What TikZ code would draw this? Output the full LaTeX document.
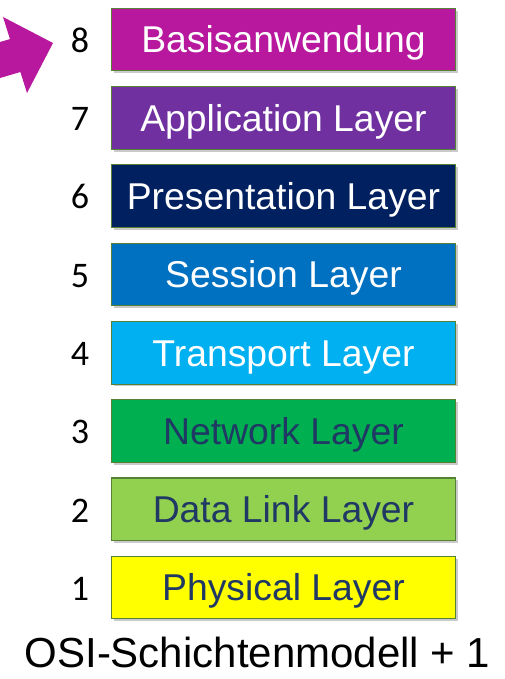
\documentclass[tikz,border=0pt]{standalone}
\usepackage{fontspec}
\setmainfont{Liberation Sans}
\newfontfamily\numfont{Carlito}
\usetikzlibrary{shadows}
\definecolor{cMagenta}{RGB}{183,24,158}
\definecolor{cPurple}{RGB}{112,48,160}
\definecolor{cNavy}{RGB}{0,32,96}
\definecolor{cBlue}{RGB}{0,112,192}
\definecolor{cSky}{RGB}{0,176,240}
\definecolor{cGreen}{RGB}{0,176,80}
\definecolor{cLime}{RGB}{146,208,80}
\definecolor{cYellow}{RGB}{255,255,0}
\definecolor{cInk}{RGB}{31,56,100}
\definecolor{cEdge}{RGB}{84,130,53}
\tikzset{
	layerbox/.style={draw=cEdge,line width=.8pt,minimum width=258pt,minimum height=47pt,
		inner sep=0pt,text height=20pt,text depth=0pt,font=\fontsize{28}{30}\selectfont,
		drop shadow={shadow xshift=1.8pt,shadow yshift=-1.8pt,opacity=.35,fill=black!60}},
	layernum/.style={inner sep=0pt,text height=17pt,text depth=0pt,font=\numfont\fontsize{27}{30}\selectfont}
}
\begin{document}
\begin{tikzpicture}[x=.75pt,y=-.75pt]
		\useasboundingbox (0,0) rectangle (504,679);
		\fill[cMagenta] (0,42)--(10,39.1)--(3,17)--(53,43)--(27,93)--(20.4,72)--(0,78)--cycle;
		\node[layerbox,fill=cMagenta,text=white] (l8) at (283.5,39.5) {Basisanwendung};
		\node[layerbox,fill=cPurple,text=white] (l7) at (283.5,117.8) {Application Layer};
		\node[layerbox,fill=cNavy,text=white] (l6) at (283.5,196.1) {Presentation Layer};
		\node[layerbox,fill=cBlue,text=white] (l5) at (283.5,274.4) {Session Layer};
		\node[layerbox,fill=cSky,text=white] (l4) at (283.5,352.7) {Transport Layer};
		\node[layerbox,fill=cGreen,text=cInk] (l3) at (283.5,431) {Network Layer};
		\node[layerbox,fill=cLime,text=cInk] (l2) at (283.5,509.3) {Data Link Layer};
		\node[layerbox,fill=cYellow,text=cInk] (l1) at (283.5,587.6) {Physical Layer};
		\node[layernum] (n8) at (80,41) {8};
		\node[layernum] (n7) at (80,119.3) {7};
		\node[layernum] (n6) at (80,197.6) {6};
		\node[layernum] (n5) at (80,275.9) {5};
		\node[layernum] (n4) at (80,354.2) {4};
		\node[layernum] (n3) at (80,432.5) {3};
		\node[layernum] (n2) at (80,510.8) {2};
		\node[layernum] (n1) at (80,589.1) {1};
		\node[font=\fontsize{31.5}{34}\selectfont,inner sep=0pt,text height=22.5pt,text depth=0pt] (title) at (257.5,652) {OSI-Schichtenmodell + 1};
	\end{tikzpicture}
\end{document}
